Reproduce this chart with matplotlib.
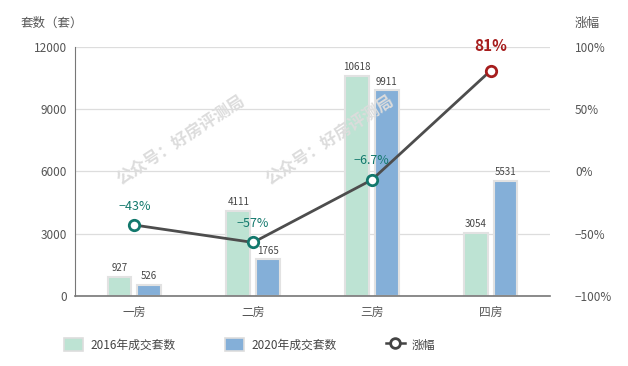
import matplotlib.pyplot as plt
import numpy as np
from matplotlib.patches import Patch
from matplotlib.lines import Line2D

plt.rcParams['font.family'] = ['Noto Sans CJK SC', 'DejaVu Sans']
plt.rcParams['axes.unicode_minus'] = False

categories = ['一房', '二房', '三房', '四房']
sales_2016 = [927, 4111, 10618, 3054]
sales_2020 = [526, 1765, 9911, 5531]
change_pct = [-43, -57, -6.7, 81]
change_labels = ['−43%', '−57%', '−6.7%', '81%']

c2016 = '#bde3d3'
c2020 = '#84afd8'
teal = '#12786c'
red = '#a61d1d'
grey = '#555555'

fig = plt.figure(figsize=(6.28, 3.66), dpi=100)
ax = fig.add_axes([0.1194, 0.1913, 0.7564, 0.6803])
ax2 = ax.twinx()

x = np.arange(len(categories))
w = 0.2
gap = 0.025
b1 = ax.bar(x - w / 2 - gap, sales_2016, w, color=c2016, edgecolor='#e2e2e2', linewidth=1.5, zorder=2)
b2 = ax.bar(x + w / 2 + gap, sales_2020, w, color=c2020, edgecolor='#e2e2e2', linewidth=1.5, zorder=2)
for bars in (b1, b2):
    for r in bars:
        ax.text(r.get_x() + r.get_width() / 2, r.get_height() + 180, str(int(r.get_height())),
                ha='center', va='bottom', fontsize=7, color='#444444')

ax.set_xlim(-0.5, 3.5)
ax.set_ylim(0, 12000)
ax.set_yticks([0, 3000, 6000, 9000, 12000])
ax.grid(axis='y', color='#dddddd', linewidth=0.9, zorder=0)
ax.set_axisbelow(True)
ax.set_xticks(x)
ax.set_xticklabels(categories)
ax.tick_params(axis='both', length=0, labelsize=8.5, colors=grey, pad=6)
ax.tick_params(axis='x', pad=7)
for s in ['top', 'right']:
    ax.spines[s].set_visible(False)
ax.spines['left'].set_color('#777777')
ax.spines['bottom'].set_color('#777777')
ax.spines['bottom'].set_linewidth(1.2)

ax2.set_ylim(-100, 100)
ax2.set_yticks([-100, -50, 0, 50, 100])
ax2.set_yticklabels(['−100%', '−50%', '0%', '50%', '100%'])
ax2.tick_params(axis='y', length=0, labelsize=8.5, colors=grey, pad=18)
for s in ax2.spines.values():
    s.set_visible(False)

ax2.plot(x, change_pct, color='#4d4d4d', linewidth=2, zorder=3)
for i, (v, lab) in enumerate(zip(change_pct, change_labels)):
    ec = red if v > 0 else teal
    ax2.plot(x[i], v, 'o', markersize=7.5, markerfacecolor='white', markeredgecolor=ec,
             markeredgewidth=2, zorder=4)
    if v > 0:
        ax2.annotate(lab, (x[i], v), xytext=(0, 12), textcoords='offset points', ha='center',
                     va='bottom', fontsize=11, fontweight='bold', color=red)
    else:
        ax2.annotate(lab, (x[i], v), xytext=(0, 9), textcoords='offset points', ha='center',
                     va='bottom', fontsize=9, color=teal)

fig.text(0.032, 0.935, '套数（套）', fontsize=9, color=grey, ha='left', va='center')
fig.text(0.915, 0.935, '涨幅', fontsize=9, color=grey, ha='left', va='center')

# watermarks
for wx, wy in [(0.287, 0.617), (0.525, 0.617)]:
    fig.text(wx, wy, '公众号：好房评测局', fontsize=12, color='#dcdcdc', rotation=33,
             ha='center', va='center', fontweight='bold', zorder=10)

handles = [
    Patch(facecolor=c2016, edgecolor='#dddddd', linewidth=1.2),
    Patch(facecolor=c2020, edgecolor='#dddddd', linewidth=1.2),
    Line2D([0], [0], color='#444444', linewidth=1.8, marker='o', markersize=7,
           markerfacecolor='white', markeredgecolor='#444444', markeredgewidth=2),
]
fig.legend(handles, ['2016年成交套数', '2020年成交套数', '涨幅'], loc='center',
           bbox_to_anchor=(0.398, 0.058), ncol=3, frameon=False, fontsize=8.5,
           labelcolor='#444444', columnspacing=4.2, handlelength=1.6, handleheight=1.3,
           handletextpad=0.6)

fig.savefig('out.png', dpi=100)
